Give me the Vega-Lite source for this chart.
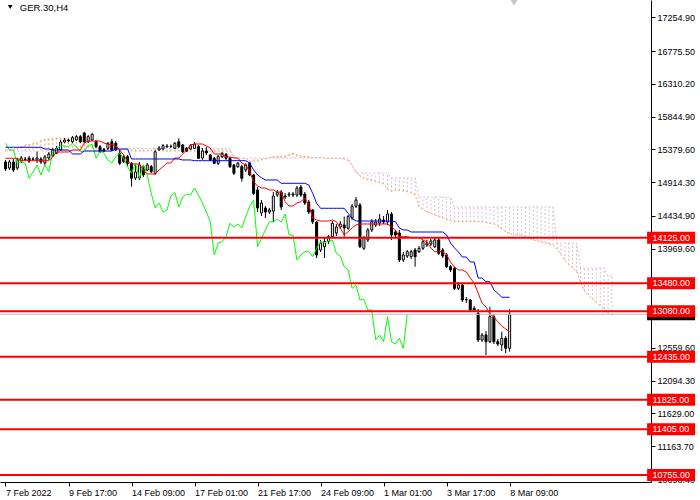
{
  "$schema": "https://vega.github.io/schema/vega-lite/v6.json",
  "width": 651,
  "height": 482,
  "autosize": {"type": "none"},
  "padding": {"left": 0, "top": 0, "right": 49, "bottom": 18},
  "background": "#ffffff",
  "config": {
    "view": {"stroke": null},
    "axis": {"domainColor": "#000000", "tickColor": "#000000", "labelColor": "#000000", "labelFont": "Liberation Sans", "labelFontSize": 9, "tickSize": 4, "domainWidth": 1, "tickWidth": 1, "grid": false, "labelOverlap": false, "labelFlush": false, "labelBound": false}
  },
  "datasets": {
    "bars": [
      {"k":0,"o":15200,"h":15229,"l":15072,"c":15101,"t":15253,"j":15409,"ch":15466,"a":15371,"b":15356},
      {"k":1,"o":15115,"h":15229,"l":15087,"c":15200,"t":15253,"j":15409,"ch":15371,"a":15371,"b":15356},
      {"k":2,"o":15200,"h":15243,"l":15058,"c":15087,"t":15253,"j":15409,"ch":15371,"a":15371,"b":15356},
      {"k":3,"o":15115,"h":15257,"l":15087,"c":15229,"t":15253,"j":15409,"ch":15182,"a":15399,"b":15356},
      {"k":4,"o":15214,"h":15285,"l":15186,"c":15257,"t":15219,"j":15409,"ch":15205,"a":15420,"b":15356},
      {"k":5,"o":15236,"h":15271,"l":15214,"c":15243,"t":15219,"j":15409,"ch":15182,"a":15442,"b":15356},
      {"k":6,"o":15257,"h":15285,"l":15186,"c":15214,"t":15219,"j":15409,"ch":14969,"a":15449,"b":15356},
      {"k":7,"o":15243,"h":15271,"l":15214,"c":15236,"t":15219,"j":15409,"ch":15058,"a":15459,"b":15356},
      {"k":8,"o":15229,"h":15349,"l":15186,"c":15257,"t":15219,"j":15409,"ch":15158,"a":15470,"b":15356},
      {"k":9,"o":15243,"h":15271,"l":15172,"c":15200,"t":15219,"j":15409,"ch":15016,"a":15506,"b":15356},
      {"k":10,"o":15186,"h":15300,"l":15158,"c":15271,"t":15219,"j":15385,"ch":15158,"a":15520,"b":15356},
      {"k":11,"o":15257,"h":15342,"l":15229,"c":15314,"t":15219,"j":15385,"ch":15063,"a":15527,"b":15356},
      {"k":12,"o":15293,"h":15399,"l":15271,"c":15371,"t":15271,"j":15371,"ch":15346,"a":15531,"b":15356},
      {"k":13,"o":15328,"h":15427,"l":15314,"c":15399,"t":15342,"j":15371,"ch":15399,"a":15537,"b":15356},
      {"k":14,"o":15371,"h":15513,"l":15356,"c":15484,"t":15342,"j":15371,"ch":15432,"a":15541,"b":15356},
      {"k":15,"o":15484,"h":15541,"l":15470,"c":15513,"t":15342,"j":15371,"ch":15427,"a":15541,"b":15356},
      {"k":16,"o":15513,"h":15527,"l":15484,"c":15498,"t":15342,"j":15371,"ch":15420,"a":15541,"b":15356},
      {"k":17,"o":15488,"h":15569,"l":15470,"c":15545,"t":15371,"j":15314,"ch":15466,"a":15545,"b":15356},
      {"k":18,"o":15513,"h":15584,"l":15498,"c":15560,"t":15371,"j":15314,"ch":15417,"a":15545,"b":15356},
      {"k":19,"o":15560,"h":15584,"l":15470,"c":15488,"t":15371,"j":15314,"ch":15346,"a":15545,"b":15356},
      {"k":20,"o":15612,"h":15630,"l":15470,"c":15488,"t":15470,"j":15356,"ch":15356,"a":15513,"b":15356},
      {"k":21,"o":15488,"h":15584,"l":15470,"c":15560,"t":15498,"j":15356,"ch":15432,"a":15427,"b":15356},
      {"k":22,"o":15513,"h":15612,"l":15498,"c":15594,"t":15498,"j":15356,"ch":15452,"a":15413,"b":15356},
      {"k":23,"o":15488,"h":15513,"l":15399,"c":15417,"t":15498,"j":15356,"ch":15253,"a":15399,"b":15356},
      {"k":24,"o":15417,"h":15442,"l":15328,"c":15346,"t":15498,"j":15356,"ch":15356,"a":15399,"b":15356},
      {"k":25,"o":15380,"h":15399,"l":15342,"c":15356,"t":15470,"j":15356,"ch":15328,"a":15392,"b":15356},
      {"k":26,"o":15395,"h":15484,"l":15371,"c":15466,"t":15449,"j":15356,"ch":15229,"a":15392,"b":15356},
      {"k":27,"o":15488,"h":15527,"l":15356,"c":15371,"t":15449,"j":15356,"ch":15182,"a":15392,"b":15356},
      {"k":28,"o":15466,"h":15498,"l":15356,"c":15371,"t":15427,"j":15385,"ch":15276,"a":15378,"b":15356},
      {"k":29,"o":15324,"h":15371,"l":15158,"c":15182,"t":15371,"j":15385,"ch":15324,"a":15378,"b":15356},
      {"k":30,"o":15276,"h":15300,"l":15186,"c":15205,"t":15300,"j":15385,"ch":15253,"a":15378,"b":15392},
      {"k":31,"o":15276,"h":15300,"l":15134,"c":15182,"t":15205,"j":15385,"ch":15134,"a":15378,"b":15392},
      {"k":32,"o":15182,"h":15200,"l":14850,"c":14969,"t":15172,"j":15243,"ch":15040,"a":15356,"b":15392},
      {"k":33,"o":14973,"h":15158,"l":14945,"c":15058,"t":15172,"j":15243,"ch":15182,"a":15356,"b":15392},
      {"k":34,"o":14973,"h":15200,"l":14945,"c":15158,"t":15172,"j":15243,"ch":14969,"a":15356,"b":15392},
      {"k":35,"o":15134,"h":15158,"l":14987,"c":15016,"t":15087,"j":15243,"ch":15158,"a":15356,"b":15392},
      {"k":36,"o":15087,"h":15186,"l":15072,"c":15158,"t":15030,"j":15243,"ch":15016,"a":15356,"b":15392},
      {"k":37,"o":15134,"h":15158,"l":15044,"c":15063,"t":15030,"j":15243,"ch":14756,"a":15356,"b":15392},
      {"k":38,"o":15040,"h":15371,"l":15016,"c":15346,"t":15030,"j":15243,"ch":14547,"a":15385,"b":15392},
      {"k":39,"o":15371,"h":15427,"l":15356,"c":15399,"t":15087,"j":15243,"ch":14618,"a":15385,"b":15392},
      {"k":40,"o":15385,"h":15456,"l":15371,"c":15432,"t":15134,"j":15243,"ch":14490,"a":15356,"b":15392},
      {"k":41,"o":15417,"h":15456,"l":15399,"c":15427,"t":15186,"j":15243,"ch":14519,"a":15356,"b":15392},
      {"k":42,"o":15423,"h":15449,"l":15399,"c":15420,"t":15186,"j":15243,"ch":14717,"a":15356,"b":15392},
      {"k":43,"o":15395,"h":15484,"l":15385,"c":15466,"t":15257,"j":15243,"ch":14767,"a":15356,"b":15392},
      {"k":44,"o":15488,"h":15537,"l":15399,"c":15417,"t":15257,"j":15243,"ch":14561,"a":15356,"b":15392},
      {"k":45,"o":15442,"h":15456,"l":15328,"c":15346,"t":15314,"j":15229,"ch":14703,"a":15356,"b":15392},
      {"k":46,"o":15395,"h":15413,"l":15342,"c":15356,"t":15371,"j":15229,"ch":14746,"a":15356,"b":15392},
      {"k":47,"o":15385,"h":15456,"l":15371,"c":15432,"t":15442,"j":15229,"ch":14732,"a":15356,"b":15392},
      {"k":48,"o":15395,"h":15484,"l":15385,"c":15452,"t":15456,"j":15219,"ch":14831,"a":15356,"b":15392},
      {"k":49,"o":15417,"h":15442,"l":15243,"c":15253,"t":15456,"j":15219,"ch":14732,"a":15356,"b":15392},
      {"k":50,"o":15257,"h":15399,"l":15229,"c":15356,"t":15456,"j":15219,"ch":14618,"a":15356,"b":15392},
      {"k":51,"o":15356,"h":15413,"l":15300,"c":15328,"t":15427,"j":15219,"ch":14490,"a":15356,"b":15392},
      {"k":52,"o":15300,"h":15314,"l":15214,"c":15229,"t":15399,"j":15219,"ch":14348,"a":15356,"b":15392},
      {"k":53,"o":15253,"h":15271,"l":15172,"c":15182,"t":15314,"j":15219,"ch":13880,"a":15356,"b":15392},
      {"k":54,"o":15182,"h":15300,"l":15158,"c":15276,"t":15314,"j":15219,"ch":14050,"a":15356,"b":15392},
      {"k":55,"o":15276,"h":15342,"l":15257,"c":15324,"t":15314,"j":15219,"ch":14069,"a":15356,"b":15392},
      {"k":56,"o":15310,"h":15328,"l":15229,"c":15253,"t":15271,"j":15219,"ch":14140,"a":15356,"b":15392},
      {"k":57,"o":15253,"h":15271,"l":15115,"c":15134,"t":15271,"j":15219,"ch":14329,"a":15356,"b":15392},
      {"k":58,"o":15158,"h":15172,"l":15016,"c":15040,"t":15257,"j":15219,"ch":14277,"a":15271,"b":15257},
      {"k":59,"o":15134,"h":15200,"l":15115,"c":15182,"t":15257,"j":15219,"ch":14320,"a":15253,"b":15257},
      {"k":60,"o":15134,"h":15158,"l":14921,"c":14969,"t":15186,"j":15219,"ch":14263,"a":15253,"b":15257},
      {"k":61,"o":15087,"h":15182,"l":15058,"c":15158,"t":15158,"j":15219,"ch":14425,"a":15253,"b":15257},
      {"k":62,"o":15182,"h":15200,"l":15001,"c":15016,"t":15063,"j":15186,"ch":14572,"a":15205,"b":15257},
      {"k":63,"o":15016,"h":15030,"l":14732,"c":14756,"t":14921,"j":15087,"ch":14661,"a":15214,"b":15257},
      {"k":64,"o":14803,"h":14845,"l":14490,"c":14547,"t":14859,"j":15016,"ch":13998,"a":15214,"b":15257},
      {"k":65,"o":14476,"h":14661,"l":14433,"c":14618,"t":14831,"j":14977,"ch":14117,"a":15229,"b":15257},
      {"k":66,"o":14547,"h":14575,"l":14405,"c":14490,"t":14831,"j":14945,"ch":14235,"a":15243,"b":15257},
      {"k":67,"o":14490,"h":14547,"l":14462,"c":14519,"t":14803,"j":14945,"ch":14352,"a":15261,"b":15257},
      {"k":68,"o":14504,"h":14774,"l":14348,"c":14717,"t":14803,"j":14945,"ch":14348,"a":15276,"b":15257},
      {"k":69,"o":14732,"h":14803,"l":14703,"c":14767,"t":14774,"j":14945,"ch":14391,"a":15281,"b":15257},
      {"k":70,"o":14774,"h":14803,"l":14519,"c":14561,"t":14774,"j":14898,"ch":14348,"a":15281,"b":15257},
      {"k":71,"o":14717,"h":14760,"l":14675,"c":14703,"t":14637,"j":14898,"ch":14462,"a":15285,"b":15257},
      {"k":72,"o":14732,"h":14774,"l":14703,"c":14746,"t":14575,"j":14898,"ch":14164,"a":15307,"b":15257},
      {"k":73,"o":14746,"h":14774,"l":14703,"c":14732,"t":14575,"j":14898,"ch":14164,"a":15324,"b":15257},
      {"k":74,"o":14732,"h":14859,"l":14703,"c":14831,"t":14618,"j":14898,"ch":13809,"a":15304,"b":15257},
      {"k":75,"o":14845,"h":14874,"l":14703,"c":14732,"t":14637,"j":14898,"ch":13880,"a":15285,"b":15257},
      {"k":76,"o":14746,"h":14774,"l":14590,"c":14618,"t":14689,"j":14898,"ch":13927,"a":15278,"b":15257},
      {"k":77,"o":14632,"h":14661,"l":14462,"c":14490,"t":14590,"j":14874,"ch":13927,"a":15278,"b":15257},
      {"k":78,"o":14519,"h":14533,"l":14320,"c":14348,"t":14405,"j":14756,"ch":13856,"a":15264,"b":15257},
      {"k":79,"o":14348,"h":14362,"l":13837,"c":13880,"t":14377,"j":14614,"ch":13975,"a":15264,"b":15257},
      {"k":80,"o":13951,"h":14093,"l":13922,"c":14050,"t":14362,"j":14543,"ch":14069,"a":15264,"b":15257},
      {"k":81,"o":13998,"h":14121,"l":13837,"c":14069,"t":14362,"j":14543,"ch":14050,"a":15253,"b":15257},
      {"k":82,"o":14069,"h":14164,"l":14036,"c":14140,"t":14362,"j":14543,"ch":14078,"a":15253,"b":15257},
      {"k":83,"o":14140,"h":14362,"l":14121,"c":14329,"t":14377,"j":14543,"ch":14093,"a":15253,"b":15257},
      {"k":84,"o":14192,"h":14320,"l":14149,"c":14277,"t":14353,"j":14543,"ch":13904,"a":15253,"b":15257},
      {"k":85,"o":14277,"h":14362,"l":14249,"c":14320,"t":14263,"j":14543,"ch":13865,"a":15253,"b":15257},
      {"k":86,"o":14306,"h":14425,"l":14140,"c":14263,"t":14164,"j":14543,"ch":13714,"a":15243,"b":15257},
      {"k":87,"o":14259,"h":14448,"l":14235,"c":14425,"t":14211,"j":14472,"ch":13667,"a":15214,"b":15257},
      {"k":88,"o":14405,"h":14604,"l":14377,"c":14572,"t":14263,"j":14401,"ch":13407,"a":15158,"b":15160},
      {"k":89,"o":14572,"h":14703,"l":14547,"c":14661,"t":14306,"j":14362,"ch":13454,"a":15058,"b":15044},
      {"k":90,"o":14590,"h":14618,"l":13979,"c":13998,"t":14320,"j":14362,"ch":13241,"a":15001,"b":15044},
      {"k":91,"o":13975,"h":14149,"l":13951,"c":14117,"t":14320,"j":14362,"ch":13248,"a":14963,"b":15044},
      {"k":92,"o":14093,"h":14263,"l":14064,"c":14235,"t":14320,"j":14362,"ch":13099,"a":14945,"b":15044},
      {"k":93,"o":14235,"h":14391,"l":14206,"c":14352,"t":14320,"j":14362,"ch":13099,"a":14938,"b":15044},
      {"k":94,"o":14306,"h":14391,"l":14277,"c":14348,"t":14320,"j":14362,"ch":12673,"a":14923,"b":15044},
      {"k":95,"o":14334,"h":14462,"l":14291,"c":14391,"t":14320,"j":14362,"ch":12744,"a":14909,"b":15044},
      {"k":96,"o":14377,"h":14433,"l":14320,"c":14348,"t":14320,"j":14362,"ch":12649,"a":14888,"b":15044},
      {"k":97,"o":14348,"h":14519,"l":14306,"c":14462,"t":14320,"j":14362,"ch":13004,"a":14817,"b":15044},
      {"k":98,"o":14462,"h":14490,"l":14093,"c":14164,"t":14282,"j":14362,"ch":12649,"a":14781,"b":14973},
      {"k":99,"o":14206,"h":14235,"l":14135,"c":14164,"t":14235,"j":14353,"ch":12616,"a":14803,"b":14973},
      {"k":100,"o":14192,"h":14235,"l":13780,"c":13809,"t":14140,"j":14263,"ch":12697,"a":14796,"b":14973},
      {"k":101,"o":13809,"h":13922,"l":13780,"c":13880,"t":14140,"j":14235,"ch":12555,"a":14788,"b":14973},
      {"k":102,"o":13865,"h":13951,"l":13837,"c":13927,"t":14140,"j":14235,"ch":13037,"a":14779,"b":14973},
      {"k":103,"o":13856,"h":13951,"l":13823,"c":13927,"t":14128,"j":14206,"a":14760,"b":14973},
      {"k":104,"o":13951,"h":13979,"l":13714,"c":13856,"t":14128,"j":14206,"a":14732,"b":14973},
      {"k":105,"o":13927,"h":14007,"l":13908,"c":13975,"t":14128,"j":14206,"a":14566,"b":14703},
      {"k":106,"o":13975,"h":14093,"l":13951,"c":14069,"t":14093,"j":14206,"a":14526,"b":14703},
      {"k":107,"o":14022,"h":14093,"l":13993,"c":14050,"t":14064,"j":14206,"a":14490,"b":14703},
      {"k":108,"o":14036,"h":14107,"l":14007,"c":14078,"t":13979,"j":14206,"a":14469,"b":14703},
      {"k":109,"o":13998,"h":14121,"l":13979,"c":14093,"t":13927,"j":14206,"a":14448,"b":14703},
      {"k":110,"o":14093,"h":14121,"l":13880,"c":13904,"t":13927,"j":14206,"a":14426,"b":14703},
      {"k":111,"o":13951,"h":13979,"l":13837,"c":13865,"t":13927,"j":14206,"a":14405,"b":14703},
      {"k":112,"o":13880,"h":13908,"l":13695,"c":13714,"t":13880,"j":14164,"a":14384,"b":14703},
      {"k":113,"o":13714,"h":13738,"l":13638,"c":13667,"t":13780,"j":14050,"a":14370,"b":14703},
      {"k":114,"o":13691,"h":13709,"l":13383,"c":13407,"t":13709,"j":13979,"a":14353,"b":14561},
      {"k":115,"o":13407,"h":13496,"l":13383,"c":13454,"t":13667,"j":13922,"a":14353,"b":14561},
      {"k":116,"o":13454,"h":13482,"l":13212,"c":13241,"t":13667,"j":13851,"a":14353,"b":14561},
      {"k":117,"o":13241,"h":13283,"l":13198,"c":13248,"t":13638,"j":13851,"a":14353,"b":14561},
      {"k":118,"o":13241,"h":13255,"l":13070,"c":13099,"t":13553,"j":13780,"a":14353,"b":14561},
      {"k":119,"o":13123,"h":13155,"l":13070,"c":13099,"t":13482,"j":13780,"a":14353,"b":14561},
      {"k":120,"o":13052,"h":13113,"l":12644,"c":12673,"t":13340,"j":13553,"a":14353,"b":14561},
      {"k":121,"o":12673,"h":12772,"l":12644,"c":12744,"t":13198,"j":13553,"a":14353,"b":14561},
      {"k":122,"o":12744,"h":12800,"l":12460,"c":12649,"t":13141,"j":13500,"a":14341,"b":14561},
      {"k":123,"o":12649,"h":13146,"l":12630,"c":13004,"t":13042,"j":13500,"a":14330,"b":14561},
      {"k":124,"o":13004,"h":13042,"l":12616,"c":12649,"t":12999,"j":13383,"a":14320,"b":14561},
      {"k":125,"o":12649,"h":12687,"l":12587,"c":12616,"t":12932,"j":13336,"a":14291,"b":14561},
      {"k":126,"o":12602,"h":12791,"l":12516,"c":12697,"t":12871,"j":13279,"a":14249,"b":14561},
      {"k":127,"o":12697,"h":12729,"l":12484,"c":12555,"t":12829,"j":13279,"a":14206,"b":14561},
      {"k":128,"o":12555,"h":13109,"l":12507,"c":13037,"t":12790,"j":13279,"a":14185,"b":14561},
      {"k":129,"a":14171,"b":14561},
      {"k":130,"a":14164,"b":14561},
      {"k":131,"a":14157,"b":14561},
      {"k":132,"a":14135,"b":14561},
      {"k":133,"a":14114,"b":14561},
      {"k":134,"a":14093,"b":14561},
      {"k":135,"a":14078,"b":14561},
      {"k":136,"a":14064,"b":14561},
      {"k":137,"a":14050,"b":14561},
      {"k":138,"a":14036,"b":14561},
      {"k":139,"a":14022,"b":14561},
      {"k":140,"a":13965,"b":14050},
      {"k":141,"a":13887,"b":14050},
      {"k":142,"a":13809,"b":14050},
      {"k":143,"a":13738,"b":14050},
      {"k":144,"a":13695,"b":14050},
      {"k":145,"a":13643,"b":14050},
      {"k":146,"a":13496,"b":13695},
      {"k":147,"a":13368,"b":13695},
      {"k":148,"a":13312,"b":13695},
      {"k":149,"a":13255,"b":13695},
      {"k":150,"a":13205,"b":13695},
      {"k":151,"a":13155,"b":13695},
      {"k":152,"a":13113,"b":13695},
      {"k":153,"a":13056,"b":13581},
      {"k":154,"a":13028,"b":13581}
    ],
    "levels": [
      {"p": 14125}, {"p": 13480}, {"p": 13080}, {"p": 12435}, {"p": 11825}, {"p": 11405}, {"p": 10755}
    ],
    "bid": [{"p": 13037.4}]
  },
  "layer": [
    {
      "data": {"name": "bars"},
      "mark": {"type": "rule", "strokeDash": [2, 2], "strokeWidth": 1},
      "encoding": {
        "x": {"field": "k", "type": "quantitative", "scale": {"domain": [-0.125, 162.625]}, "title": null,
          "axis": {"orient": "bottom", "values": [0, 16, 32, 48, 64, 80, 96, 112, 128],
            "labelExpr": "['7 Feb 2022','9 Feb 17:00','14 Feb 09:00','17 Feb 01:00','21 Feb 17:00','24 Feb 09:00','1 Mar 01:00','3 Mar 17:00','8 Mar 09:00'][round(datum.value / 16)]",
            "labelAlign": "left", "labelBaseline": "top", "labelPadding": 2, "labelFlush": false, "labelOverlap": false, "labelBound": false}},
        "y": {"field": "a", "type": "quantitative", "scale": {"domain": [10656.2, 17500.6], "zero": false, "nice": false}, "title": null,
          "axis": {"orient": "right", "values": [17254.9, 16775.5, 16310.2, 15844.9, 15379.6, 14914.3, 14434.9, 13969.6, 12559.6, 12094.3, 11629.0, 11163.7, 10698.4],
            "format": ".2f", "labelAlign": "left", "labelBaseline": "middle", "labelPadding": 2, "labelFlush": false, "labelOverlap": false, "labelBound": false}},
        "y2": {"field": "b"},
        "stroke": {"condition": {"test": "datum.a >= datum.b", "value": "#f4a460"}, "value": "#d8bfd8"}
      }
    },
    {
      "data": {"name": "bars"},
      "mark": {"type": "line", "color": "#f4a460", "strokeDash": [2, 2], "strokeWidth": 1},
      "encoding": {
        "x": {"field": "k", "type": "quantitative", "scale": {"domain": [-0.125, 162.625]}, "title": null},
        "y": {"field": "a", "type": "quantitative", "scale": {"domain": [10656.2, 17500.6], "zero": false, "nice": false}, "title": null}
      }
    },
    {
      "data": {"name": "bars"},
      "mark": {"type": "line", "color": "#d8bfd8", "strokeDash": [2, 2], "strokeWidth": 1},
      "encoding": {
        "x": {"field": "k", "type": "quantitative", "scale": {"domain": [-0.125, 162.625]}, "title": null},
        "y": {"field": "b", "type": "quantitative", "scale": {"domain": [10656.2, 17500.6], "zero": false, "nice": false}, "title": null}
      }
    },
    {
      "data": {"name": "bars"},
      "mark": {"type": "rule", "color": "#000000", "strokeWidth": 1},
      "encoding": {
        "x": {"field": "k", "type": "quantitative", "scale": {"domain": [-0.125, 162.625]}, "title": null},
        "y": {"field": "l", "type": "quantitative", "scale": {"domain": [10656.2, 17500.6], "zero": false, "nice": false}, "title": null},
        "y2": {"field": "h"}
      }
    },
    {
      "data": {"name": "bars"},
      "mark": {"type": "bar", "width": 2, "stroke": "#000000", "strokeWidth": 1},
      "encoding": {
        "x": {"field": "k", "type": "quantitative", "scale": {"domain": [-0.125, 162.625]}, "title": null},
        "y": {"field": "o", "type": "quantitative", "scale": {"domain": [10656.2, 17500.6], "zero": false, "nice": false}, "title": null},
        "y2": {"field": "c"},
        "fill": {"condition": {"test": "datum.c > datum.o", "value": "#ffffff"}, "value": "#000000"}
      }
    },
    {
      "data": {"name": "bars"},
      "mark": {"type": "line", "color": "#00ff00", "strokeWidth": 1},
      "encoding": {
        "x": {"field": "k", "type": "quantitative", "scale": {"domain": [-0.125, 162.625]}, "title": null},
        "y": {"field": "ch", "type": "quantitative", "scale": {"domain": [10656.2, 17500.6], "zero": false, "nice": false}, "title": null}
      }
    },
    {
      "data": {"name": "bars"},
      "mark": {"type": "line", "color": "#ff0000", "strokeWidth": 1},
      "encoding": {
        "x": {"field": "k", "type": "quantitative", "scale": {"domain": [-0.125, 162.625]}, "title": null},
        "y": {"field": "t", "type": "quantitative", "scale": {"domain": [10656.2, 17500.6], "zero": false, "nice": false}, "title": null}
      }
    },
    {
      "data": {"name": "bars"},
      "mark": {"type": "line", "color": "#0000ff", "strokeWidth": 1},
      "encoding": {
        "x": {"field": "k", "type": "quantitative", "scale": {"domain": [-0.125, 162.625]}, "title": null},
        "y": {"field": "j", "type": "quantitative", "scale": {"domain": [10656.2, 17500.6], "zero": false, "nice": false}, "title": null}
      }
    },
    {
      "data": {"name": "bid"},
      "mark": {"type": "rule", "color": "#c0c0c0", "strokeWidth": 1},
      "encoding": {
        "y": {"field": "p", "type": "quantitative", "scale": {"domain": [10656.2, 17500.6], "zero": false, "nice": false}, "title": null}
      }
    },
    {
      "data": {"name": "levels"},
      "mark": {"type": "rule", "color": "#ff0000", "strokeWidth": 2},
      "encoding": {
        "y": {"field": "p", "type": "quantitative", "scale": {"domain": [10656.2, 17500.6], "zero": false, "nice": false}, "title": null}
      }
    },
    {
      "data": {"name": "bid"},
      "mark": {"type": "point", "shape": "M-1,-0.25L1,-0.25L1,0.25L-1,0.25Z", "size": 2304, "filled": true, "color": "#000000", "opacity": 1, "strokeWidth": 0},
      "encoding": {
        "x": {"datum": 169, "type": "quantitative", "scale": {"domain": [-0.125, 162.625]}, "title": null},
        "y": {"field": "p", "type": "quantitative", "scale": {"domain": [10656.2, 17500.6], "zero": false, "nice": false}, "title": null}
      }
    },
    {
      "data": {"name": "levels"},
      "mark": {"type": "point", "shape": "M-1,-0.25L1,-0.25L1,0.25L-1,0.25Z", "size": 2304, "filled": true, "color": "#ff0000", "opacity": 1, "strokeWidth": 0},
      "encoding": {
        "x": {"datum": 169, "type": "quantitative", "scale": {"domain": [-0.125, 162.625]}, "title": null},
        "y": {"field": "p", "type": "quantitative", "scale": {"domain": [10656.2, 17500.6], "zero": false, "nice": false}, "title": null}
      }
    },
    {
      "data": {"name": "levels"},
      "mark": {"type": "text", "align": "left", "baseline": "middle", "font": "Liberation Sans", "fontSize": 9, "color": "#ffffff"},
      "encoding": {
        "x": {"datum": 164.25, "type": "quantitative", "scale": {"domain": [-0.125, 162.625]}, "title": null},
        "y": {"field": "p", "type": "quantitative", "scale": {"domain": [10656.2, 17500.6], "zero": false, "nice": false}, "title": null},
        "text": {"field": "p", "format": ".2f"}
      }
    },
    {
      "data": {"values": [{"s": "GER.30,H4"}]},
      "mark": {"type": "point", "shape": "triangle-down", "size": 22, "filled": true, "color": "#000000", "opacity": 1},
      "encoding": {
        "x": {"datum": 1.2, "type": "quantitative", "scale": {"domain": [-0.125, 162.625]}, "title": null},
        "y": {"datum": 17401, "type": "quantitative", "scale": {"domain": [10656.2, 17500.6], "zero": false, "nice": false}, "title": null}
      }
    },
    {
      "data": {"values": [{"s": "GER.30,H4"}]},
      "mark": {"type": "text", "align": "left", "baseline": "middle", "font": "Liberation Sans", "fontSize": 9.5, "color": "#000000"},
      "encoding": {
        "x": {"datum": 3.625, "type": "quantitative", "scale": {"domain": [-0.125, 162.625]}, "title": null},
        "y": {"datum": 17394, "type": "quantitative", "scale": {"domain": [10656.2, 17500.6], "zero": false, "nice": false}, "title": null},
        "text": {"field": "s"}
      }
    },
    {
      "data": {"values": [{"s": "shift"}]},
      "mark": {"type": "point", "shape": "triangle-down", "size": 110, "filled": true, "color": "#c8c8c8", "opacity": 1},
      "encoding": {
        "x": {"datum": 129.1, "type": "quantitative", "scale": {"domain": [-0.125, 162.625]}, "title": null},
        "y": {"datum": 17480, "type": "quantitative", "scale": {"domain": [10656.2, 17500.6], "zero": false, "nice": false}, "title": null}
      }
    }
  ]
}
